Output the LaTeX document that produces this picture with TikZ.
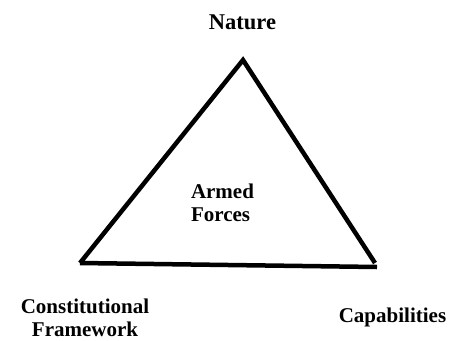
\documentclass[tikz,border=0pt]{standalone}
\usepackage{fontspec}
\setmainfont{Liberation Serif}
\usepackage{tikz}

\begin{document}
\begin{tikzpicture}[x=1pt,y=-1pt,
    every node/.style={inner sep=0pt,font=\fontsize{21}{23.5}\selectfont\bfseries},
    side/.style={line width=4.5pt,black}]
    \useasboundingbox (0,0) rectangle (449,340);

    \coordinate (T) at (243,60);
    \coordinate (L) at (80,263);
    \coordinate (R) at (375,263);
    \coordinate (E) at (377,267);

    \node[anchor=base] (N) at (242.5,29) {\fontsize{22.5}{24}\selectfont Nature};
    \node[align=left] (A) at (222.5,203) {Armed\\Forces};
    \node[align=center] (C) at (85,318) {Constitutional\\Framework};
    \node[anchor=base] (K) at (392.5,322) {Capabilities};

    \draw[side]
        (L) -- (T) -- (R)
        (L) -- (E);
\end{tikzpicture}
\end{document}
